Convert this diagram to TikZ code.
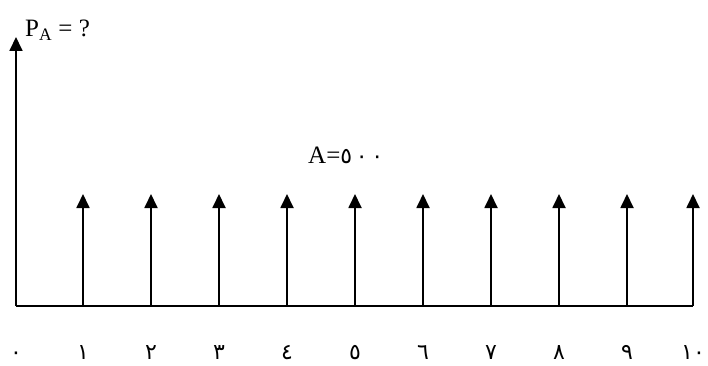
\documentclass[tikz,border=0pt]{standalone}
\usepackage{fontspec}
\setmainfont{Liberation Serif}
\newfontfamily\arabicfont[Script=Arabic]{DejaVu Sans}
\usetikzlibrary{arrows.meta}
\begin{document}
\begin{tikzpicture}[x=1pt,y=-1pt,
  ln/.style={line width=1.8pt},
  upar/.style={ln,-{Triangle[width=13pt,length=14pt]}},
  dig/.style={font=\arabicfont\fontsize{22}{22}\selectfont, anchor=base, inner sep=0pt},
  lbl/.style={font=\fontsize{25}{27}\selectfont, anchor=base west, inner sep=0pt}]
\useasboundingbox (0,0) rectangle (708,366);
\coordinate (o) at (16,306);
\coordinate (e) at (693,306);
\coordinate (top) at (16,37);
\draw[ln] (o) -- (e);
\draw[upar] (o) -- (top);
\foreach \i/\x in {1/83,2/151,3/219,4/287,5/355,6/423,7/491,8/559,9/627,10/693} {
  \coordinate (b\i) at (\x,306);
  \coordinate (t\i) at (\x,194);
  \draw[upar] (b\i) -- (t\i);
}
\foreach \i/\x/\d in {0/16/٠,1/83/١,2/151/٢,3/219/٣,4/287/٤,5/355/٥,6/423/٦,7/491/٧,8/559/٨,9/627/٩,10/693/١٠} {
  \node[dig] (d\i) at (\x,359) {\d};
}
\node[lbl] (pa) at (25,37) {P\textsubscript{A} = ?};
\node[lbl] (aa) at (308,164) {A=\arabicfont\fontsize{22}{22}\selectfont ٥\,٠\,٠};
\end{tikzpicture}
\end{document}
